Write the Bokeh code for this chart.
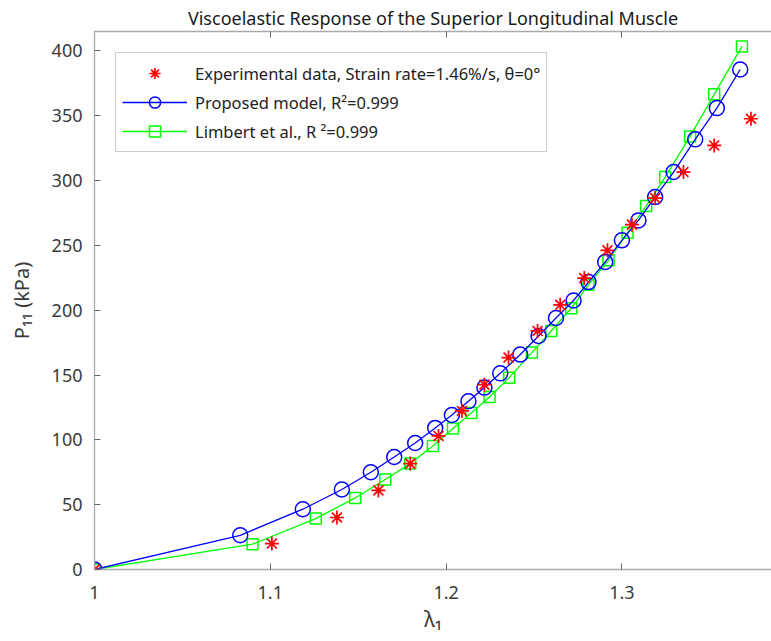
import numpy as np
from bokeh.plotting import figure
from bokeh.models import (Range1d, LinearAxis, FixedTicker, CustomJSTickFormatter,
                          Legend, LegendItem)
from bokeh.embed import file_html
from bokeh.resources import INLINE

# ---------------- data ----------------
exp_x = [1.0, 1.1009, 1.1379, 1.1615, 1.1796, 1.1957, 1.2090, 1.2218, 1.2355, 1.2520,
         1.2649, 1.2786, 1.2918, 1.3057, 1.3189, 1.3350, 1.3525, 1.3734]
exp_y = [0.0, 20.0, 40.1, 61.0, 81.7, 103.0, 122.3, 142.6, 163.5, 184.0,
         204.2, 224.8, 246.2, 266.0, 286.5, 306.6, 327.1, 347.7]

prop_x = [1.0, 1.0829, 1.1185, 1.1407, 1.1572, 1.1705, 1.1824, 1.1938, 1.2033, 1.2127,
          1.2218, 1.2308, 1.2422, 1.2526, 1.2625, 1.2725, 1.2810, 1.2905, 1.3000, 1.3094,
          1.3189, 1.3294, 1.3417, 1.3540, 1.3673]
prop_y = [0.0, 26.4, 46.5, 61.7, 75.0, 86.8, 97.6, 109.2, 119.2, 129.8,
          140.3, 151.3, 165.8, 180.1, 194.0, 207.5, 221.7, 237.2, 253.9, 269.3,
          287.3, 306.6, 331.8, 355.9, 385.7]

limb_x = [1.0, 1.0899, 1.1259, 1.1483, 1.1654, 1.1796, 1.1925, 1.2039, 1.2143, 1.2247,
          1.2359, 1.2488, 1.2598, 1.2712, 1.2810, 1.2924, 1.3032, 1.3138, 1.3246, 1.3388,
          1.3525, 1.3683]
limb_y = [0.0, 19.5, 39.3, 55.2, 69.4, 81.7, 95.3, 108.7, 120.7, 133.1,
          148.0, 167.3, 184.0, 201.5, 219.7, 238.5, 259.8, 280.3, 302.7, 334.1,
          366.5, 403.5]

x_ticks = [1.0, 1.1, 1.2, 1.3, 1.4]
y_ticks = [0, 50, 100, 150, 200, 250, 300, 350, 400]

title_text = "Viscoelastic Response of the Superior Longitudinal Muscle"
x_label = "\u03bb\u2081"
y_label = "P\u2081\u2081 (kPa)"
legend_labels = ["Experimental data, Strain rate=1.46%/s, \u03b8=0\u00b0",
                 "Proposed model, R\u00b2=0.999",
                 "Limbert et al., R \u00b2=0.999"]

FONT = "Noto Sans"
AX_COL = "#aaaaaa"
TXT_COL = "#3a3a3a"

# page has no margin with bokeh's template: frame left=94, top=31, bottom=569
BL, BB, BT, BR = 94, 72, 31, 0
W, H = 771, 641

p = figure(width=W, height=H, output_backend="svg", toolbar_location=None,
           x_range=Range1d(1.0, 1.3851), y_range=Range1d(0, 415),
           min_border_left=BL, min_border_right=BR, min_border_top=BT,
           min_border_bottom=BB, title=title_text)
p.outline_line_color = None
p.grid.visible = False
p.background_fill_color = "white"
p.border_fill_color = "white"

p.title.align = "center"
p.title.offset = 14
p.title.standoff = 4
p.title.text_font = FONT
p.title.text_font_size = "18px"
p.title.text_font_style = "normal"
p.title.text_color = "#1a1a1a"

fmt = CustomJSTickFormatter(code="var s = tick.toFixed(1); return s.replace(/\\.0$/, '');")

for ax in p.xaxis:
    ax.ticker = FixedTicker(ticks=x_ticks)
    ax.formatter = fmt
    ax.major_tick_in = 6
    ax.major_tick_out = 0
    ax.minor_tick_in = 0
    ax.minor_tick_out = 0
    ax.axis_line_color = AX_COL
    ax.axis_line_width = 1.3
    ax.major_tick_line_color = "#666666"
    ax.major_label_text_font = FONT
    ax.major_label_text_font_size = "18px"
    ax.major_label_text_color = TXT_COL
    ax.major_label_standoff = 16
    ax.axis_label = x_label
    ax.axis_label_text_font = FONT
    ax.axis_label_text_font_size = "21px"
    ax.axis_label_text_font_style = "normal"
    ax.axis_label_text_color = TXT_COL
    ax.axis_label_standoff = 3

for ax in p.yaxis:
    ax.ticker = FixedTicker(ticks=y_ticks)
    ax.major_tick_in = 6
    ax.major_tick_out = 0
    ax.minor_tick_in = 0
    ax.minor_tick_out = 0
    ax.axis_line_color = AX_COL
    ax.axis_line_width = 1.3
    ax.major_tick_line_color = "#666666"
    ax.major_label_text_font = FONT
    ax.major_label_text_font_size = "18px"
    ax.major_label_text_color = TXT_COL
    ax.major_label_standoff = 12
    ax.axis_label = y_label
    ax.axis_label_text_font = FONT
    ax.axis_label_text_font_size = "20px"
    ax.axis_label_text_font_style = "normal"
    ax.axis_label_text_color = TXT_COL
    ax.axis_label_standoff = 14

top = LinearAxis(ticker=FixedTicker(ticks=x_ticks), major_tick_in=6, major_tick_out=0,
                 minor_tick_in=0, minor_tick_out=0, axis_line_color=AX_COL,
                 axis_line_width=1.3, major_tick_line_color="#666666",
                 formatter=CustomJSTickFormatter(code="return '';"),
                 major_label_text_font_size="1px", major_label_standoff=0)
p.add_layout(top, "above")

# series
l_line = p.line(limb_x, limb_y, line_color="#00ff00", line_width=1.3)
l_mk = p.scatter(limb_x, limb_y, marker="square", size=11, fill_color=None,
                 line_color="#00ff00", line_width=1.5)
b_line = p.line(prop_x, prop_y, line_color="#0000ff", line_width=1.3)
b_mk = p.scatter(prop_x, prop_y, marker="circle", size=15, fill_color=None,
                 line_color="#0000ff", line_width=1.5)
e_mk = p.scatter(exp_x, exp_y, marker="asterisk", size=14, line_color="#ff0000",
                 line_width=1.7)

legend = Legend(items=[LegendItem(label=legend_labels[0], renderers=[e_mk]),
                       LegendItem(label=legend_labels[1], renderers=[b_line, b_mk]),
                       LegendItem(label=legend_labels[2], renderers=[l_line, l_mk])],
                location="top_left", margin=21, padding=6, spacing=1,
                glyph_width=65, glyph_height=28, label_height=28, label_standoff=8,
                label_text_font=FONT, label_text_font_size="16.5px",
                label_text_color="#222222", border_line_color="#999999",
                border_line_width=1, background_fill_color="white",
                background_fill_alpha=1.0)
p.add_layout(legend)

open("out.html", "w").write(file_html(p, INLINE))
